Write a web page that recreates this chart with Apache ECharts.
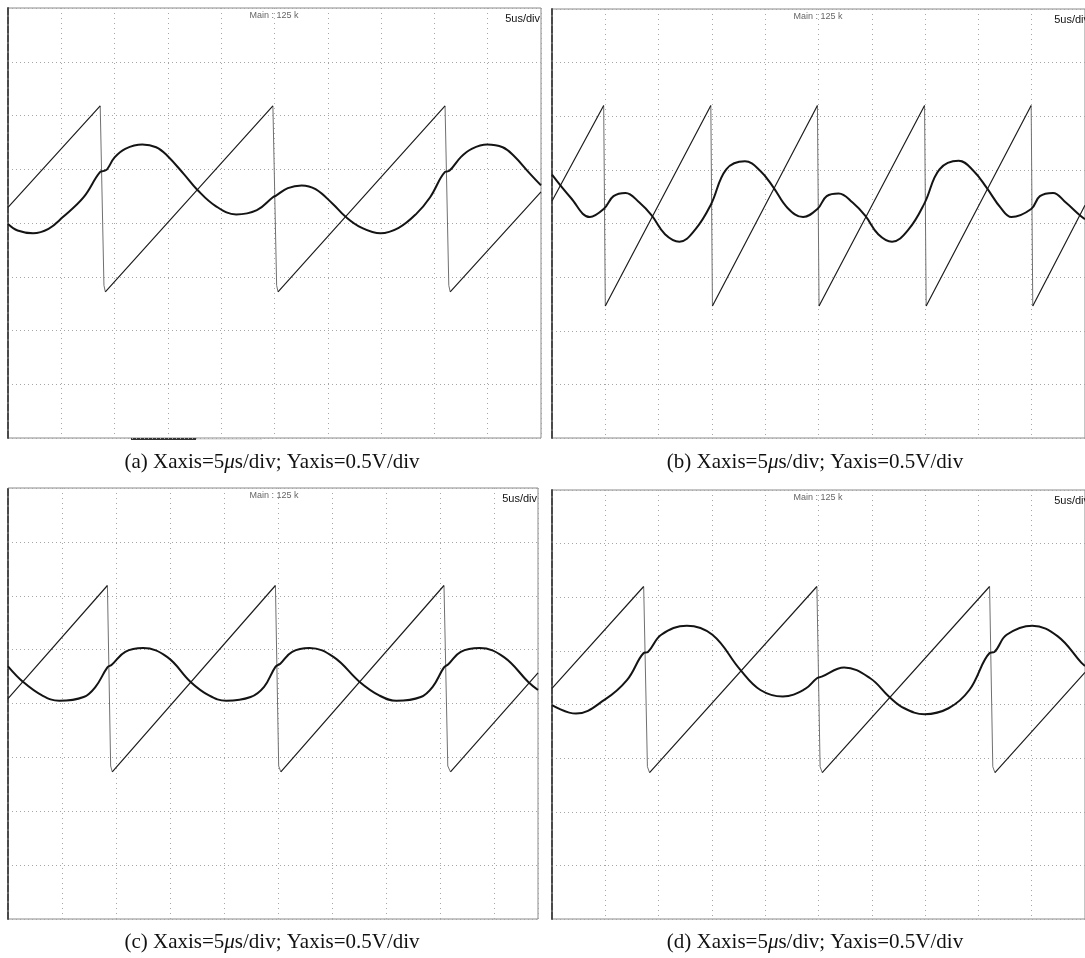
<!DOCTYPE html>
<html>
<head>
<meta charset="utf-8">
<title>Oscilloscope captures</title>
<script src="https://cdn.jsdelivr.net/npm/echarts@6/dist/echarts.min.js"></script>
<style>
  html, body { margin: 0; padding: 0; background: #fff; }
  #chart { width: 1085px; height: 958px; }
</style>
</head>
<body>
<div id="chart"></div>
<script>
  // time in us (5us/div), level in V (0.5V/div)
  var panelNames = ['(a)', '(b)', '(c)', '(d)']
  var xMax = [50, 50, 49.05, 50]

  var sawA = [[0, 0.145], [8.65, 1.09], [9.0, -0.58], [9.13, -0.64], [24.85, 1.09], [25.2, -0.58], [25.33, -0.64],
    [41.0, 1.09], [41.35, -0.58], [41.48, -0.64], [50, 0.29]]
  var sineA = [[0, -0.01], [0.9, -0.07], [2.35, -0.095], [3.8, -0.055], [5.15, 0.055], [7.1, 0.24], [8.65, 0.475],
    [9.0, 0.485], [9.3, 0.5], [10, 0.61], [11, 0.69], [12.6, 0.73], [13.9, 0.705], [14.9, 0.63], [16.5, 0.455],
    [17.75, 0.31], [19.45, 0.16], [21.4, 0.08], [23.35, 0.12], [24.85, 0.24], [25.15, 0.255], [26.25, 0.325],
    [27.55, 0.35], [28.85, 0.315], [30.5, 0.175], [31.65, 0.06], [33.1, -0.04], [34.95, -0.095], [36.65, -0.045],
    [38.3, 0.085], [39.6, 0.24], [41.0, 0.475], [41.4, 0.485], [42.5, 0.615], [43.5, 0.69], [44.95, 0.73],
    [46.4, 0.705], [47.4, 0.63], [49.0, 0.455], [50, 0.35]]

  var sawB = [[0, 0.21], [4.85, 1.1], [5.0, -0.77], [14.9, 1.1], [15.05, -0.77], [24.9, 1.1], [25.05, -0.77],
    [34.95, 1.1], [35.1, -0.77], [44.95, 1.1], [45.1, -0.77], [50, 0.17]]
  var sineB = [[0, 0.455], [1.76, 0.24], [3.55, 0.06], [4.85, 0.135], [5.77, 0.255], [6.9, 0.285], [8.2, 0.195],
    [9.35, 0.075], [10.6, -0.1], [11.95, -0.17], [13.45, -0.055], [14.9, 0.175], [16.35, 0.505], [18.1, 0.58],
    [19.55, 0.49], [20.75, 0.34], [22.1, 0.145], [23.55, 0.06], [24.9, 0.135], [25.77, 0.255], [26.9, 0.28],
    [28.2, 0.195], [29.4, 0.07], [30.6, -0.1], [31.9, -0.17], [33.45, -0.055], [34.95, 0.19], [36.35, 0.505],
    [38.15, 0.585], [39.55, 0.49], [40.8, 0.33], [42.1, 0.145], [43.1, 0.06], [44.95, 0.135], [45.77, 0.255],
    [47.0, 0.285], [48.2, 0.195], [49.6, 0.07], [50, 0.04]]

  var sawC = [[0, 0.045], [9.2, 1.095], [9.5, -0.58], [9.65, -0.635], [24.75, 1.095], [25.05, -0.58], [25.25, -0.635],
    [40.35, 1.095], [40.7, -0.58], [40.95, -0.635], [49.05, 0.285]]
  var sineC = [[0, 0.345], [1.4, 0.2], [3.15, 0.075], [4.75, 0.025], [7.0, 0.06], [8.1, 0.155], [9.2, 0.335],
    [9.6, 0.36], [10.85, 0.48], [12.5, 0.515], [14.75, 0.43], [16.9, 0.2], [18.6, 0.075], [20.2, 0.025],
    [22.45, 0.06], [23.7, 0.155], [24.75, 0.34], [25.2, 0.37], [26.3, 0.48], [27.9, 0.515], [30.15, 0.43],
    [32.55, 0.2], [34.35, 0.075], [35.95, 0.025], [38.2, 0.06], [39.3, 0.155], [40.35, 0.335], [40.75, 0.365],
    [41.9, 0.48], [43.65, 0.515], [45.9, 0.43], [48.15, 0.2], [49.05, 0.125]]

  var sawD = [[0, 0.15], [8.6, 1.1], [8.95, -0.58], [9.15, -0.635], [24.85, 1.1], [25.15, -0.58], [25.35, -0.635],
    [41.05, 1.1], [41.35, -0.58], [41.55, -0.635], [50, 0.3]]
  var sineD = [[0, -0.005], [2.25, -0.085], [4.95, 0.045], [7.05, 0.23], [8.6, 0.48], [9.0, 0.49], [10.25, 0.65],
    [12.65, 0.735], [15.05, 0.65], [17.65, 0.325], [19.55, 0.135], [21.65, 0.075], [23.75, 0.145], [24.85, 0.245],
    [25.3, 0.26], [27.4, 0.345], [29.85, 0.245], [31.6, 0.075], [33.05, -0.035], [34.95, -0.09], [37.2, -0.035],
    [39.15, 0.135], [41.05, 0.48], [41.5, 0.49], [42.65, 0.65], [45.05, 0.735], [47.45, 0.635], [49.65, 0.39],
    [50, 0.36]]

  var saws = [sawA, sawB, sawC, sawD]
  var sines = [sineA, sineB, sineC, sineD]

  var boxes = [
    {left: 8, top: 8, width: 533, height: 430},
    {left: 552, top: 9, width: 538, height: 429},
    {left: 8, top: 488, width: 530, height: 431},
    {left: 552, top: 490, width: 538, height: 429}
  ]
  var captionPos = [[272, 462], [815, 462], [272, 942], [815, 942]]

  // the scope draws the fast falling edges faint, so split ramps and drops
  function splitSaw(pts) {
    var up = [], down = []
    for (var k = 1; k < pts.length; k++) {
      var a = pts[k - 1], b = pts[k]
      var target = b[1] < a[1] ? down : up
      var last = target[target.length - 1]
      if (!last || last[0] !== a[0] || last[1] !== a[1]) {
        if (last) target.push([a[0], '-'])
        target.push(a)
      }
      target.push(b)
    }
    return {up: up, down: down}
  }

  var chart = echarts.init(document.getElementById('chart'))

  var grids = [], xAxes = [], yAxes = [], series = [], graphics = []
  boxes.forEach(function (b, i) {
    grids.push({
      left: b.left, top: b.top, width: b.width, height: b.height,
      show: true, borderColor: '#8a8a8a', borderWidth: 1
    })
    xAxes.push({
      gridIndex: i, type: 'value', min: 0, max: xMax[i], interval: 5,
      axisLine: {show: false}, axisTick: {show: false}, axisLabel: {show: false},
      splitLine: {show: true, lineStyle: {color: '#a6a6a6', width: 1, type: [1, 4]}}
    })
    yAxes.push({
      gridIndex: i, type: 'value', min: -2, max: 2, interval: 0.5,
      axisLine: {show: true, onZero: false, lineStyle: {color: '#4a4a4a', width: 2, type: [7, 2]}},
      axisTick: {show: false}, axisLabel: {show: false},
      splitLine: {show: true, lineStyle: {color: '#a6a6a6', width: 1, type: [1, 3]}}
    })
    var parts = splitSaw(saws[i])
    series.push({
      type: 'line', xAxisIndex: i, yAxisIndex: i, data: parts.down,
      showSymbol: false, connectNulls: false,
      lineStyle: {color: '#707070', width: 1}
    })
    series.push({
      type: 'line', xAxisIndex: i, yAxisIndex: i, data: parts.up,
      showSymbol: false, connectNulls: false,
      lineStyle: {color: '#1e1e1e', width: 1.2}
    })
    series.push({
      type: 'line', xAxisIndex: i, yAxisIndex: i, data: sines[i],
      showSymbol: false, smooth: 0.4,
      lineStyle: {color: '#141414', width: 2}
    })
    graphics.push({
      type: 'text', x: b.left + 266, y: b.top + 8,
      style: {text: 'Main : 125 k', fontFamily: 'Liberation Sans', fontSize: 9, fill: '#666',
        align: 'center', verticalAlign: 'middle'}
    })
    graphics.push({
      type: 'text', x: b.left + b.width - 1, y: b.top + 11,
      style: {text: '5us/div', fontFamily: 'Liberation Sans', fontSize: 11, fill: '#111',
        align: 'right', verticalAlign: 'middle'}
    })
    graphics.push({
      type: 'text', x: captionPos[i][0], y: captionPos[i][1],
      style: {
        text: panelNames[i] + ' Xaxis=5{m|μ}s/div; Yaxis=0.5V/div',
        fontFamily: 'Liberation Serif', fontSize: 21, fill: '#111',
        align: 'center', verticalAlign: 'middle',
        rich: {m: {fontFamily: 'Liberation Serif', fontSize: 21, fontStyle: 'italic', fill: '#111'}}
      }
    })
  })

  // dark smudge under the bottom edge of screen (a)
  graphics.push({type: 'line', shape: {x1: 131, y1: 439, x2: 196, y2: 439}, style: {stroke: '#333', lineWidth: 2}})
  graphics.push({type: 'line', shape: {x1: 196, y1: 439, x2: 262, y2: 439}, style: {stroke: '#cfcfcf', lineWidth: 1}})

  chart.setOption({
    animation: false,
    backgroundColor: '#fff',
    grid: grids,
    xAxis: xAxes,
    yAxis: yAxes,
    series: series,
    graphic: graphics
  })
</script>
</body>
</html>
